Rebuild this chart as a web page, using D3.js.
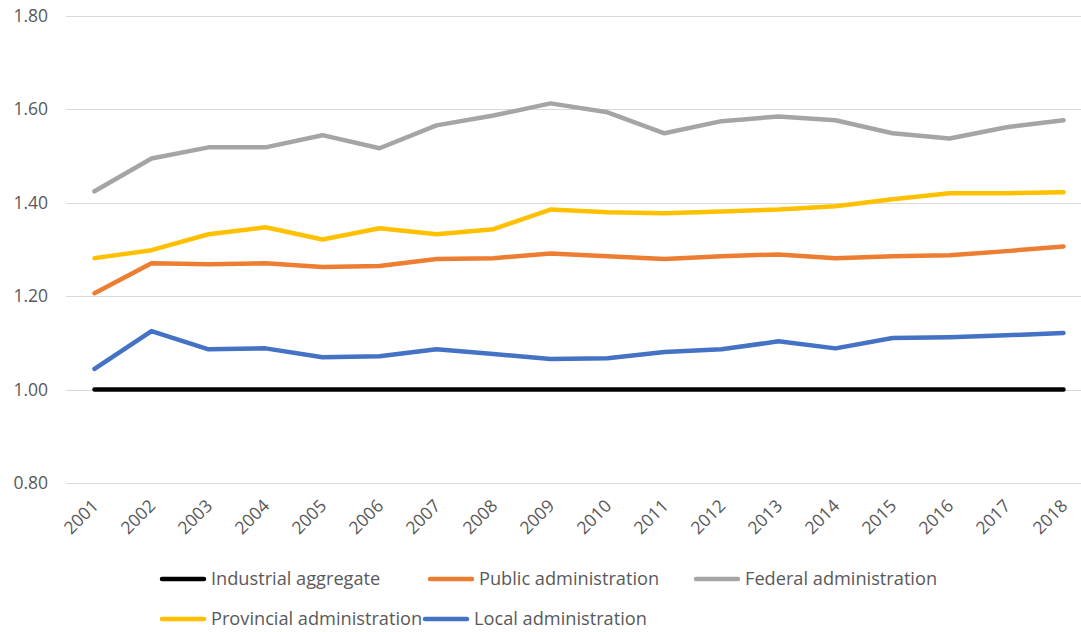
<!DOCTYPE html>
<html>
<head>
<meta charset="utf-8">
<script src="https://cdn.jsdelivr.net/npm/d3@7"></script>
<style>
  html, body { margin: 0; padding: 0; background: #fff; }
  svg { display: block; }
  text { font-family: "Open Sans", "DejaVu Sans", sans-serif; }
</style>
</head>
<body>
<svg id="chart" width="1081" height="632"></svg>
<script>
// Relative wage index by level of administration (industrial aggregate = 1.00)
const years = ["2001","2002","2003","2004","2005","2006","2007","2008","2009",
               "2010","2011","2012","2013","2014","2015","2016","2017","2018"];

const industrialAggregate = [1,1,1,1,1,1,1,1,1,1,1,1,1,1,1,1,1,1];
const publicAdministration = [1.206,1.270,1.268,1.270,1.262,1.264,1.279,1.281,1.291,
                              1.285,1.279,1.285,1.289,1.281,1.285,1.287,1.296,1.306];
const federalAdministration = [1.424,1.494,1.518,1.518,1.544,1.516,1.565,1.586,1.612,
                               1.593,1.548,1.574,1.584,1.576,1.548,1.537,1.561,1.576];
const provincialAdministration = [1.281,1.298,1.332,1.347,1.321,1.345,1.332,1.343,1.385,
                                  1.379,1.377,1.381,1.385,1.392,1.407,1.420,1.420,1.422];
const localAdministration = [1.044,1.125,1.086,1.088,1.069,1.071,1.086,1.076,1.065,
                             1.067,1.080,1.086,1.103,1.088,1.110,1.112,1.116,1.121];

const yTicks = [0.8, 1.0, 1.2, 1.4, 1.6, 1.8];

const series = [
  { name: "Industrial aggregate",     values: industrialAggregate,     color: "#000000" },
  { name: "Public administration",    values: publicAdministration,    color: "#ED7D31" },
  { name: "Federal administration",   values: federalAdministration,   color: "#A5A5A5" },
  { name: "Provincial administration",values: provincialAdministration,color: "#FFC000" },
  { name: "Local administration",     values: localAdministration,     color: "#4472C4" }
];

const svg = d3.select("#chart");
const plotLeft = 66, plotRight = 1081, plotTop = 15.5, plotBottom = 483;

const x = d3.scalePoint().domain(years).range([94.5, 1063.5]);
const y = d3.scaleLinear().domain([0.8, 1.8]).range([plotBottom, plotTop]);

// Horizontal gridlines
svg.append("g")
  .selectAll("line")
  .data(yTicks)
  .join("line")
  .attr("x1", plotLeft).attr("x2", plotRight)
  .attr("y1", d => Math.round(y(d)) + 0.5)
  .attr("y2", d => Math.round(y(d)) + 0.5)
  .attr("stroke", "#D9D9D9")
  .attr("stroke-width", 1);

// Y axis labels
svg.append("g")
  .selectAll("text")
  .data(yTicks)
  .join("text")
  .attr("x", 48)
  .attr("y", d => y(d))
  .attr("dy", "0.35em")
  .attr("text-anchor", "end")
  .attr("fill", "#595959")
  .attr("font-size", 17.5)
  .text(d3.format(".2f"));

// X axis labels, rotated
svg.append("g")
  .selectAll("text")
  .data(years)
  .join("text")
  .attr("transform", d => `translate(${x(d) + 5},${plotBottom + 24}) rotate(-45)`)
  .attr("text-anchor", "end")
  .attr("fill", "#595959")
  .attr("font-size", 17.5)
  .text(d => d);

// Series lines
const line = d3.line()
  .x((d, i) => x(years[i]))
  .y(d => y(d));

svg.append("g")
  .selectAll("path")
  .data(series)
  .join("path")
  .attr("d", d => line(d.values))
  .attr("fill", "none")
  .attr("stroke", d => d.color)
  .attr("stroke-width", 4.5)
  .attr("stroke-linejoin", "round")
  .attr("stroke-linecap", "round");

// Legend
const legendPos = [
  { x: 160, y: 579 }, { x: 428, y: 579 }, { x: 694, y: 579 },
  { x: 160, y: 619 }, { x: 423, y: 619 }
];
const legend = svg.append("g")
  .selectAll("g")
  .data(series)
  .join("g")
  .attr("transform", (d, i) => `translate(${legendPos[i].x},${legendPos[i].y})`);

legend.append("line")
  .attr("x1", 2).attr("x2", 44)
  .attr("stroke", d => d.color)
  .attr("stroke-width", 4.5)
  .attr("stroke-linecap", "round");

legend.append("text")
  .attr("x", 51)
  .attr("dy", "0.35em")
  .attr("fill", "#595959")
  .attr("font-size", 18.2)
  .text(d => d.name);
</script>
</body>
</html>
